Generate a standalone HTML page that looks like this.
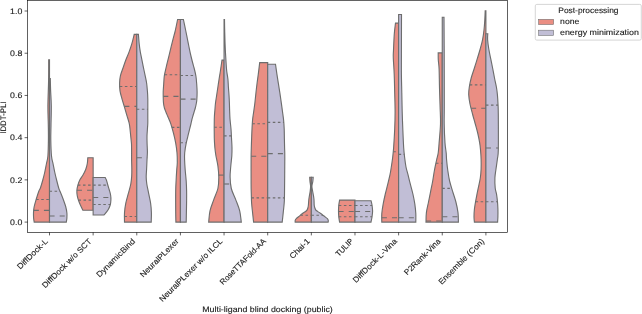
<!DOCTYPE html>
<html><head><meta charset="utf-8"><style>
html,body{margin:0;padding:0;background:#fff;width:642px;height:314px;overflow:hidden}
svg{display:block;will-change:transform}
text{text-rendering:geometricPrecision;font-family:"Liberation Sans",sans-serif;font-size:8.0px;fill:#1a1a1a;stroke:#1a1a1a;stroke-width:0.12px}
</style></head><body>
<svg width="642" height="314" viewBox="0 0 642 314">
<rect width="642" height="314" fill="#fff"/>
<path d="M49.50,59.80 L48.70,59.80 C48.68,63.17 48.73,72.30 48.60,80.00 C48.47,87.70 47.95,98.50 47.90,106.00 C47.85,113.50 48.22,119.33 48.30,125.00 C48.38,130.67 48.47,134.83 48.40,140.00 C48.33,145.17 48.23,152.00 47.90,156.00 C47.57,160.00 46.92,161.33 46.40,164.00 C45.88,166.67 45.40,169.33 44.80,172.00 C44.20,174.67 43.53,177.33 42.80,180.00 C42.07,182.67 41.05,186.17 40.40,188.00 C39.75,189.83 39.58,189.17 38.90,191.00 C38.22,192.83 37.10,196.33 36.30,199.00 C35.50,201.67 34.57,204.67 34.10,207.00 C33.63,209.33 33.58,211.17 33.50,213.00 C33.42,214.83 33.48,216.48 33.60,218.00 C33.72,219.52 34.10,221.42 34.20,222.10 L49.50,222.10 Z" fill="#EA8E83" stroke="#6D6D6D" stroke-width="1.13" stroke-linejoin="miter"/>
<path d="M49.50,78.60 L50.30,78.60 C50.35,80.50 50.43,85.43 50.60,90.00 C50.77,94.57 51.23,100.17 51.30,106.00 C51.37,111.83 51.08,119.33 51.00,125.00 C50.92,130.67 50.72,134.83 50.80,140.00 C50.88,145.17 51.12,152.00 51.50,156.00 C51.88,160.00 52.57,161.33 53.10,164.00 C53.63,166.67 54.12,169.33 54.70,172.00 C55.28,174.67 55.93,177.33 56.60,180.00 C57.27,182.67 58.15,186.17 58.70,188.00 C59.25,189.83 59.17,189.17 59.90,191.00 C60.63,192.83 62.12,196.33 63.10,199.00 C64.08,201.67 65.17,204.67 65.80,207.00 C66.43,209.33 66.72,211.17 66.90,213.00 C67.08,214.83 67.00,216.48 66.90,218.00 C66.80,219.52 66.40,221.42 66.30,222.10 L49.50,222.10 Z" fill="#C1BED6" stroke="#6D6D6D" stroke-width="1.13" stroke-linejoin="miter"/>
<line x1="36.16" y1="199.50" x2="49.50" y2="199.50" stroke="#6D6D6D" stroke-width="1.13" stroke-dasharray="2.54 2.54"/>
<line x1="33.76" y1="210.40" x2="49.50" y2="210.40" stroke="#6D6D6D" stroke-width="1.13" stroke-dasharray="5.08 5.08"/>
<line x1="49.50" y1="191.30" x2="60.02" y2="191.30" stroke="#6D6D6D" stroke-width="1.13" stroke-dasharray="2.54 2.54"/>
<line x1="49.50" y1="216.00" x2="66.90" y2="216.00" stroke="#6D6D6D" stroke-width="1.13" stroke-dasharray="5.08 5.08"/>
<path d="M93.14,157.70 L87.80,157.70 C87.72,158.67 87.63,161.58 87.30,163.50 C86.97,165.42 86.52,167.28 85.80,169.20 C85.08,171.12 84.00,173.20 83.00,175.00 C82.00,176.80 80.65,178.32 79.80,180.00 C78.95,181.68 78.38,183.40 77.90,185.10 C77.42,186.80 77.02,188.50 76.90,190.20 C76.78,191.90 76.93,193.60 77.20,195.30 C77.47,197.00 77.93,198.70 78.50,200.40 C79.07,202.10 79.87,203.85 80.60,205.50 C81.33,207.15 82.52,209.50 82.90,210.30 L93.14,210.30 Z" fill="#EA8E83" stroke="#6D6D6D" stroke-width="1.13" stroke-linejoin="miter"/>
<path d="M93.14,177.50 L105.20,177.50 C105.40,177.92 105.97,178.75 106.40,180.00 C106.83,181.25 107.32,183.33 107.80,185.00 C108.28,186.67 108.83,188.33 109.30,190.00 C109.77,191.67 110.33,193.33 110.60,195.00 C110.87,196.67 110.97,198.33 110.90,200.00 C110.83,201.67 110.68,203.33 110.20,205.00 C109.72,206.67 109.03,208.33 108.00,210.00 C106.97,211.67 104.67,214.17 104.00,215.00 L93.14,215.00 Z" fill="#C1BED6" stroke="#6D6D6D" stroke-width="1.13" stroke-linejoin="miter"/>
<line x1="77.90" y1="185.10" x2="93.14" y2="185.10" stroke="#6D6D6D" stroke-width="1.13" stroke-dasharray="2.54 2.54"/>
<line x1="76.90" y1="190.20" x2="93.14" y2="190.20" stroke="#6D6D6D" stroke-width="1.13" stroke-dasharray="5.08 5.08"/>
<line x1="78.42" y1="200.10" x2="93.14" y2="200.10" stroke="#6D6D6D" stroke-width="1.13" stroke-dasharray="2.54 2.54"/>
<line x1="93.14" y1="185.10" x2="107.83" y2="185.10" stroke="#6D6D6D" stroke-width="1.13" stroke-dasharray="2.54 2.54"/>
<line x1="93.14" y1="197.50" x2="110.75" y2="197.50" stroke="#6D6D6D" stroke-width="1.13" stroke-dasharray="5.08 5.08"/>
<line x1="93.14" y1="204.50" x2="110.27" y2="204.50" stroke="#6D6D6D" stroke-width="1.13" stroke-dasharray="2.54 2.54"/>
<path d="M136.78,34.40 L134.20,34.40 C133.80,35.98 132.65,40.98 131.80,43.90 C130.95,46.82 130.08,49.25 129.10,51.90 C128.12,54.55 126.90,57.15 125.90,59.80 C124.90,62.45 124.02,65.13 123.10,67.80 C122.18,70.47 120.98,73.27 120.40,75.80 C119.82,78.33 119.67,80.48 119.60,83.00 C119.53,85.52 119.60,88.25 120.00,90.90 C120.40,93.55 121.27,96.25 122.00,98.90 C122.73,101.55 123.62,104.15 124.40,106.80 C125.18,109.45 125.92,112.13 126.70,114.80 C127.48,117.47 128.57,120.60 129.10,122.80 C129.63,125.00 129.63,125.80 129.90,128.00 C130.17,130.20 130.43,133.33 130.70,136.00 C130.97,138.67 131.35,141.33 131.50,144.00 C131.65,146.67 131.58,149.33 131.60,152.00 C131.62,154.67 131.57,157.33 131.60,160.00 C131.63,162.67 131.78,165.33 131.80,168.00 C131.82,170.67 131.87,173.33 131.70,176.00 C131.53,178.67 131.37,181.07 130.80,184.00 C130.23,186.93 129.13,190.40 128.30,193.60 C127.47,196.80 126.43,200.02 125.80,203.20 C125.17,206.38 124.72,209.55 124.50,212.70 C124.28,215.85 124.50,220.53 124.50,222.10 L136.78,222.10 Z" fill="#EA8E83" stroke="#6D6D6D" stroke-width="1.13" stroke-linejoin="miter"/>
<path d="M136.78,34.40 L138.40,34.40 C138.53,35.98 138.88,40.98 139.20,43.90 C139.52,46.82 139.85,49.25 140.30,51.90 C140.75,54.55 141.37,57.15 141.90,59.80 C142.43,62.45 142.95,65.13 143.50,67.80 C144.05,70.47 144.68,73.27 145.20,75.80 C145.72,78.33 146.23,80.47 146.60,83.00 C146.97,85.53 147.20,88.33 147.40,91.00 C147.60,93.67 147.73,95.00 147.80,99.00 C147.87,103.00 147.80,111.00 147.80,115.00 C147.80,119.00 147.85,120.83 147.80,123.00 C147.75,125.17 147.63,125.83 147.50,128.00 C147.37,130.17 147.07,133.33 147.00,136.00 C146.93,138.67 147.03,141.33 147.10,144.00 C147.17,146.67 147.42,149.33 147.40,152.00 C147.38,154.67 147.13,157.17 147.00,160.00 C146.87,162.83 146.73,166.17 146.60,169.00 C146.47,171.83 146.17,174.50 146.20,177.00 C146.23,179.50 146.38,181.23 146.80,184.00 C147.22,186.77 148.07,190.40 148.70,193.60 C149.33,196.80 150.15,200.02 150.60,203.20 C151.05,206.38 151.30,209.55 151.40,212.70 C151.50,215.85 151.23,220.53 151.20,222.10 L136.78,222.10 Z" fill="#C1BED6" stroke="#6D6D6D" stroke-width="1.13" stroke-linejoin="miter"/>
<line x1="119.78" y1="86.50" x2="136.78" y2="86.50" stroke="#6D6D6D" stroke-width="1.13" stroke-dasharray="2.54 2.54"/>
<line x1="124.28" y1="106.40" x2="136.78" y2="106.40" stroke="#6D6D6D" stroke-width="1.13" stroke-dasharray="5.08 5.08"/>
<line x1="124.50" y1="216.50" x2="136.78" y2="216.50" stroke="#6D6D6D" stroke-width="1.13" stroke-dasharray="2.54 2.54"/>
<line x1="136.78" y1="109.20" x2="147.80" y2="109.20" stroke="#6D6D6D" stroke-width="1.13" stroke-dasharray="2.54 2.54"/>
<line x1="136.78" y1="157.70" x2="147.12" y2="157.70" stroke="#6D6D6D" stroke-width="1.13" stroke-dasharray="5.08 5.08"/>
<path d="M180.42,19.50 L177.60,19.50 C177.20,21.42 175.95,27.77 175.20,31.00 C174.45,34.23 173.78,36.25 173.10,38.90 C172.42,41.55 171.75,44.23 171.10,46.90 C170.45,49.57 169.85,52.25 169.20,54.90 C168.55,57.55 167.73,60.62 167.20,62.80 C166.67,64.98 166.48,65.80 166.00,68.00 C165.52,70.20 164.68,73.33 164.30,76.00 C163.92,78.67 163.88,81.33 163.70,84.00 C163.52,86.67 163.27,89.33 163.20,92.00 C163.13,94.67 163.23,98.00 163.30,100.00 C163.37,102.00 163.42,102.67 163.60,104.00 C163.78,105.33 164.02,106.67 164.40,108.00 C164.78,109.33 165.37,110.67 165.90,112.00 C166.43,113.33 167.03,114.67 167.60,116.00 C168.17,117.33 168.75,118.65 169.30,120.00 C169.85,121.35 170.18,121.82 170.90,124.10 C171.62,126.38 172.80,130.52 173.60,133.70 C174.40,136.88 175.13,140.02 175.70,143.20 C176.27,146.38 176.73,149.60 177.00,152.80 C177.27,156.00 177.35,159.47 177.30,162.40 C177.25,165.33 176.90,167.35 176.70,170.40 C176.50,173.45 176.27,177.27 176.10,180.70 C175.93,184.13 175.77,185.82 175.70,191.00 C175.63,196.18 175.67,206.62 175.70,211.80 C175.73,216.98 175.87,220.38 175.90,222.10 L180.42,222.10 Z" fill="#EA8E83" stroke="#6D6D6D" stroke-width="1.13" stroke-linejoin="miter"/>
<path d="M180.42,19.50 L183.40,19.50 C183.80,21.42 185.13,27.75 185.80,31.00 C186.47,34.25 186.87,36.33 187.40,39.00 C187.93,41.67 188.45,44.33 189.00,47.00 C189.55,49.67 190.08,52.33 190.70,55.00 C191.32,57.67 192.13,60.83 192.70,63.00 C193.27,65.17 193.57,65.83 194.10,68.00 C194.63,70.17 195.47,73.33 195.90,76.00 C196.33,78.67 196.50,81.33 196.70,84.00 C196.90,86.67 197.08,89.33 197.10,92.00 C197.12,94.67 196.95,98.00 196.80,100.00 C196.65,102.00 196.45,102.67 196.20,104.00 C195.95,105.33 195.65,106.67 195.30,108.00 C194.95,109.33 194.50,110.67 194.10,112.00 C193.70,113.33 193.28,114.67 192.90,116.00 C192.52,117.33 192.13,118.67 191.80,120.00 C191.47,121.33 191.45,121.72 190.90,124.00 C190.35,126.28 189.28,130.50 188.50,133.70 C187.72,136.90 186.83,140.02 186.20,143.20 C185.57,146.38 184.97,150.00 184.70,152.80 C184.43,155.60 184.52,157.13 184.60,160.00 C184.68,162.87 184.93,166.50 185.20,170.00 C185.47,173.50 185.97,177.50 186.20,181.00 C186.43,184.50 186.53,187.67 186.60,191.00 C186.67,194.33 186.63,197.50 186.60,201.00 C186.57,204.50 186.47,208.48 186.40,212.00 C186.33,215.52 186.23,220.42 186.20,222.10 L180.42,222.10 Z" fill="#C1BED6" stroke="#6D6D6D" stroke-width="1.13" stroke-linejoin="miter"/>
<line x1="164.58" y1="74.70" x2="180.42" y2="74.70" stroke="#6D6D6D" stroke-width="1.13" stroke-dasharray="2.54 2.54"/>
<line x1="163.25" y1="96.40" x2="180.42" y2="96.40" stroke="#6D6D6D" stroke-width="1.13" stroke-dasharray="5.08 5.08"/>
<line x1="171.83" y1="127.40" x2="180.42" y2="127.40" stroke="#6D6D6D" stroke-width="1.13" stroke-dasharray="2.54 2.54"/>
<line x1="180.42" y1="75.50" x2="195.79" y2="75.50" stroke="#6D6D6D" stroke-width="1.13" stroke-dasharray="2.54 2.54"/>
<line x1="180.42" y1="99.10" x2="196.83" y2="99.10" stroke="#6D6D6D" stroke-width="1.13" stroke-dasharray="5.08 5.08"/>
<line x1="180.42" y1="142.70" x2="186.32" y2="142.70" stroke="#6D6D6D" stroke-width="1.13" stroke-dasharray="2.54 2.54"/>
<path d="M224.06,60.10 L222.00,60.10 C221.73,61.92 220.88,67.85 220.40,71.00 C219.92,74.15 219.52,76.33 219.10,79.00 C218.68,81.67 218.30,84.33 217.90,87.00 C217.50,89.67 217.10,92.33 216.70,95.00 C216.30,97.67 215.80,100.50 215.50,103.00 C215.20,105.50 215.10,107.33 214.90,110.00 C214.70,112.67 214.40,114.33 214.30,119.00 C214.20,123.67 214.20,133.17 214.30,138.00 C214.40,142.83 214.65,145.17 214.90,148.00 C215.15,150.83 215.30,152.00 215.80,155.00 C216.30,158.00 217.40,162.28 217.90,166.00 C218.40,169.72 218.80,173.55 218.80,177.30 C218.80,181.05 218.73,184.78 217.90,188.50 C217.07,192.22 215.12,195.88 213.80,199.60 C212.48,203.32 210.85,207.05 210.00,210.80 C209.15,214.55 208.92,220.22 208.70,222.10 L224.06,222.10 Z" fill="#EA8E83" stroke="#6D6D6D" stroke-width="1.13" stroke-linejoin="miter"/>
<path d="M224.06,19.50 L224.50,19.50 C224.53,21.42 224.58,26.42 224.70,31.00 C224.82,35.58 224.97,41.67 225.20,47.00 C225.43,52.33 225.85,59.00 226.10,63.00 C226.35,67.00 226.40,68.33 226.70,71.00 C227.00,73.67 227.62,76.33 227.90,79.00 C228.18,81.67 228.22,84.33 228.40,87.00 C228.58,89.67 228.83,92.33 229.00,95.00 C229.17,97.67 229.30,100.50 229.40,103.00 C229.50,105.50 229.50,107.33 229.60,110.00 C229.70,112.67 229.77,115.83 230.00,119.00 C230.23,122.17 230.75,125.83 231.00,129.00 C231.25,132.17 231.33,134.83 231.50,138.00 C231.67,141.17 231.95,145.00 232.00,148.00 C232.05,151.00 232.00,153.00 231.80,156.00 C231.60,159.00 231.08,162.50 230.80,166.00 C230.52,169.50 230.02,173.25 230.10,177.00 C230.18,180.75 230.37,184.73 231.30,188.50 C232.23,192.27 234.30,195.88 235.70,199.60 C237.10,203.32 238.77,207.05 239.70,210.80 C240.63,214.55 241.03,220.22 241.30,222.10 L224.06,222.10 Z" fill="#C1BED6" stroke="#6D6D6D" stroke-width="1.13" stroke-linejoin="miter"/>
<line x1="214.30" y1="127.20" x2="224.06" y2="127.20" stroke="#6D6D6D" stroke-width="1.13" stroke-dasharray="2.54 2.54"/>
<line x1="218.62" y1="175.10" x2="224.06" y2="175.10" stroke="#6D6D6D" stroke-width="1.13" stroke-dasharray="5.08 5.08"/>
<line x1="224.06" y1="135.90" x2="231.38" y2="135.90" stroke="#6D6D6D" stroke-width="1.13" stroke-dasharray="2.54 2.54"/>
<line x1="224.06" y1="184.00" x2="230.83" y2="184.00" stroke="#6D6D6D" stroke-width="1.13" stroke-dasharray="5.08 5.08"/>
<path d="M267.70,62.60 L259.70,62.60 C259.47,64.52 258.75,70.58 258.30,74.10 C257.85,77.62 257.40,80.52 257.00,83.70 C256.60,86.88 256.25,90.02 255.90,93.20 C255.55,96.38 255.28,99.60 254.90,102.80 C254.52,106.00 253.98,109.60 253.60,112.40 C253.22,115.20 252.87,116.83 252.60,119.60 C252.33,122.37 252.17,125.82 252.00,129.00 C251.83,132.18 251.72,135.53 251.60,138.70 C251.48,141.87 251.38,144.78 251.30,148.00 C251.22,151.22 251.13,152.00 251.10,158.00 C251.07,164.00 251.07,178.00 251.10,184.00 C251.13,190.00 251.22,190.83 251.30,194.00 C251.38,197.17 251.38,199.83 251.60,203.00 C251.82,206.17 252.27,209.82 252.60,213.00 C252.93,216.18 253.43,220.58 253.60,222.10 L267.70,222.10 Z" fill="#EA8E83" stroke="#6D6D6D" stroke-width="1.13" stroke-linejoin="miter"/>
<path d="M267.70,64.20 L275.50,64.20 C275.73,65.85 276.42,70.85 276.90,74.10 C277.38,77.35 277.90,80.52 278.40,83.70 C278.90,86.88 279.42,90.02 279.90,93.20 C280.38,96.38 280.85,99.60 281.30,102.80 C281.75,106.00 282.22,109.53 282.60,112.40 C282.98,115.27 283.33,117.23 283.60,120.00 C283.87,122.77 284.07,125.83 284.20,129.00 C284.33,132.17 284.33,135.83 284.40,139.00 C284.47,142.17 284.53,144.83 284.60,148.00 C284.67,151.17 284.82,150.33 284.80,158.00 C284.78,165.67 284.60,186.50 284.50,194.00 C284.40,201.50 284.42,199.83 284.20,203.00 C283.98,206.17 283.53,209.82 283.20,213.00 C282.87,216.18 282.37,220.58 282.20,222.10 L267.70,222.10 Z" fill="#C1BED6" stroke="#6D6D6D" stroke-width="1.13" stroke-linejoin="miter"/>
<line x1="252.33" y1="123.80" x2="267.70" y2="123.80" stroke="#6D6D6D" stroke-width="1.13" stroke-dasharray="2.54 2.54"/>
<line x1="251.13" y1="156.30" x2="267.70" y2="156.30" stroke="#6D6D6D" stroke-width="1.13" stroke-dasharray="5.08 5.08"/>
<line x1="251.43" y1="197.90" x2="267.70" y2="197.90" stroke="#6D6D6D" stroke-width="1.13" stroke-dasharray="2.54 2.54"/>
<line x1="267.70" y1="122.40" x2="283.76" y2="122.40" stroke="#6D6D6D" stroke-width="1.13" stroke-dasharray="2.54 2.54"/>
<line x1="267.70" y1="153.60" x2="284.71" y2="153.60" stroke="#6D6D6D" stroke-width="1.13" stroke-dasharray="5.08 5.08"/>
<line x1="267.70" y1="197.90" x2="284.37" y2="197.90" stroke="#6D6D6D" stroke-width="1.13" stroke-dasharray="2.54 2.54"/>
<path d="M311.34,177.30 L309.70,177.30 C309.75,178.02 309.85,180.10 310.00,181.60 C310.15,183.10 310.57,184.73 310.60,186.30 C310.63,187.87 310.40,189.40 310.20,191.00 C310.00,192.60 309.63,194.43 309.40,195.90 C309.17,197.37 308.97,198.28 308.80,199.80 C308.63,201.32 308.53,203.72 308.40,205.00 C308.27,206.28 308.23,206.65 308.00,207.50 C307.77,208.35 307.47,209.40 307.00,210.10 C306.53,210.80 305.92,211.17 305.20,211.70 C304.48,212.23 303.43,212.77 302.70,213.30 C301.97,213.83 301.50,214.32 300.80,214.90 C300.10,215.48 299.25,216.17 298.50,216.80 C297.75,217.43 296.85,218.12 296.30,218.70 C295.75,219.28 295.38,219.73 295.20,220.30 C295.02,220.87 295.20,221.80 295.20,222.10 L311.34,222.10 Z" fill="#EA8E83" stroke="#6D6D6D" stroke-width="1.13" stroke-linejoin="miter"/>
<path d="M311.34,177.30 L313.20,177.30 C313.13,178.02 313.02,180.10 312.80,181.60 C312.58,183.10 311.93,184.73 311.90,186.30 C311.87,187.87 312.33,189.40 312.60,191.00 C312.87,192.60 313.27,194.43 313.50,195.90 C313.73,197.37 313.88,198.28 314.00,199.80 C314.12,201.32 314.08,203.72 314.20,205.00 C314.32,206.28 314.45,206.70 314.70,207.50 C314.95,208.30 315.22,209.15 315.70,209.80 C316.18,210.45 316.82,210.82 317.60,211.40 C318.38,211.98 319.52,212.67 320.40,213.30 C321.28,213.93 322.07,214.57 322.90,215.20 C323.73,215.83 324.65,216.52 325.40,217.10 C326.15,217.68 326.92,218.12 327.40,218.70 C327.88,219.28 328.18,220.03 328.30,220.60 C328.42,221.17 328.13,221.85 328.10,222.10 L311.34,222.10 Z" fill="#C1BED6" stroke="#6D6D6D" stroke-width="1.13" stroke-linejoin="miter"/>
<line x1="300.44" y1="215.20" x2="311.34" y2="215.20" stroke="#6D6D6D" stroke-width="1.13" stroke-dasharray="2.54 2.54"/>
<line x1="311.34" y1="215.20" x2="322.90" y2="215.20" stroke="#6D6D6D" stroke-width="1.13" stroke-dasharray="2.54 2.54"/>
<path d="M354.98,200.10 L339.60,200.10 C339.47,200.92 338.98,203.18 338.80,205.00 C338.62,206.82 338.50,209.00 338.50,211.00 C338.50,213.00 338.62,215.15 338.80,217.00 C338.98,218.85 339.47,221.25 339.60,222.10 L354.98,222.10 Z" fill="#EA8E83" stroke="#6D6D6D" stroke-width="1.13" stroke-linejoin="miter"/>
<path d="M354.98,200.70 L371.00,200.70 C371.17,201.42 371.73,203.28 372.00,205.00 C372.27,206.72 372.60,209.00 372.60,211.00 C372.60,213.00 372.27,215.15 372.00,217.00 C371.73,218.85 371.17,221.25 371.00,222.10 L354.98,222.10 Z" fill="#C1BED6" stroke="#6D6D6D" stroke-width="1.13" stroke-linejoin="miter"/>
<line x1="338.78" y1="205.50" x2="354.98" y2="205.50" stroke="#6D6D6D" stroke-width="1.13" stroke-dasharray="2.54 2.54"/>
<line x1="338.52" y1="211.50" x2="354.98" y2="211.50" stroke="#6D6D6D" stroke-width="1.13" stroke-dasharray="5.08 5.08"/>
<line x1="338.79" y1="216.70" x2="354.98" y2="216.70" stroke="#6D6D6D" stroke-width="1.13" stroke-dasharray="2.54 2.54"/>
<line x1="354.98" y1="205.50" x2="372.05" y2="205.50" stroke="#6D6D6D" stroke-width="1.13" stroke-dasharray="2.54 2.54"/>
<line x1="354.98" y1="211.50" x2="372.55" y2="211.50" stroke="#6D6D6D" stroke-width="1.13" stroke-dasharray="5.08 5.08"/>
<line x1="354.98" y1="216.70" x2="372.03" y2="216.70" stroke="#6D6D6D" stroke-width="1.13" stroke-dasharray="2.54 2.54"/>
<path d="M398.62,23.10 L395.50,23.10 C395.30,24.90 394.63,29.43 394.30,33.90 C393.97,38.37 393.67,45.92 393.50,49.90 C393.33,53.88 393.18,53.78 393.30,57.80 C393.42,61.82 393.97,68.13 394.20,74.00 C394.43,79.87 394.55,86.67 394.70,93.00 C394.85,99.33 395.10,106.00 395.10,112.00 C395.10,118.00 394.95,123.00 394.70,129.00 C394.45,135.00 393.95,143.17 393.60,148.00 C393.25,152.83 392.98,154.83 392.60,158.00 C392.22,161.17 391.73,164.22 391.30,167.00 C390.87,169.78 390.60,171.80 390.00,174.70 C389.40,177.60 388.48,181.18 387.70,184.40 C386.92,187.62 386.05,190.77 385.30,194.00 C384.55,197.23 383.78,200.55 383.20,203.80 C382.62,207.05 382.03,210.45 381.80,213.50 C381.57,216.55 381.80,220.67 381.80,222.10 L398.62,222.10 Z" fill="#EA8E83" stroke="#6D6D6D" stroke-width="1.13" stroke-linejoin="miter"/>
<path d="M398.62,14.50 L401.50,14.50 C401.48,21.25 401.42,45.08 401.40,55.00 C401.38,64.92 401.33,67.67 401.40,74.00 C401.47,80.33 401.67,86.67 401.80,93.00 C401.93,99.33 402.03,106.00 402.20,112.00 C402.37,118.00 402.55,123.00 402.80,129.00 C403.05,135.00 403.38,143.17 403.70,148.00 C404.02,152.83 404.32,154.83 404.70,158.00 C405.08,161.17 405.45,164.22 406.00,167.00 C406.55,169.78 407.27,171.80 408.00,174.70 C408.73,177.60 409.58,181.18 410.40,184.40 C411.22,187.62 412.17,190.77 412.90,194.00 C413.63,197.23 414.32,200.55 414.80,203.80 C415.28,207.05 415.63,210.45 415.80,213.50 C415.97,216.55 415.80,220.67 415.80,222.10 L398.62,222.10 Z" fill="#C1BED6" stroke="#6D6D6D" stroke-width="1.13" stroke-linejoin="miter"/>
<line x1="393.23" y1="151.70" x2="398.62" y2="151.70" stroke="#6D6D6D" stroke-width="1.13" stroke-dasharray="2.54 2.54"/>
<line x1="381.80" y1="217.80" x2="398.62" y2="217.80" stroke="#6D6D6D" stroke-width="1.13" stroke-dasharray="5.08 5.08"/>
<line x1="398.62" y1="154.40" x2="404.34" y2="154.40" stroke="#6D6D6D" stroke-width="1.13" stroke-dasharray="2.54 2.54"/>
<line x1="398.62" y1="217.80" x2="415.80" y2="217.80" stroke="#6D6D6D" stroke-width="1.13" stroke-dasharray="5.08 5.08"/>
<path d="M442.26,52.90 L438.20,52.90 C438.22,54.08 438.15,57.32 438.30,60.00 C438.45,62.68 438.90,64.33 439.10,69.00 C439.30,73.67 439.33,81.67 439.50,88.00 C439.67,94.33 439.93,101.00 440.10,107.00 C440.27,113.00 440.67,118.00 440.50,124.00 C440.33,130.00 439.48,138.17 439.10,143.00 C438.72,147.83 438.62,150.17 438.20,153.00 C437.78,155.83 437.23,157.08 436.60,160.00 C435.97,162.92 435.05,167.00 434.40,170.50 C433.75,174.00 433.33,177.48 432.70,181.00 C432.07,184.52 431.30,188.10 430.60,191.60 C429.90,195.10 429.20,198.50 428.50,202.00 C427.80,205.50 426.82,209.25 426.40,212.60 C425.98,215.95 426.07,220.52 426.00,222.10 L442.26,222.10 Z" fill="#EA8E83" stroke="#6D6D6D" stroke-width="1.13" stroke-linejoin="miter"/>
<path d="M442.26,17.20 L444.00,17.20 C444.03,22.67 444.15,35.37 444.20,50.00 C444.25,64.63 444.30,92.67 444.30,105.00 C444.30,117.33 444.08,117.67 444.20,124.00 C444.32,130.33 444.67,138.17 445.00,143.00 C445.33,147.83 445.93,150.17 446.20,153.00 C446.47,155.83 446.33,157.08 446.60,160.00 C446.87,162.92 447.30,167.00 447.80,170.50 C448.30,174.00 448.78,177.48 449.60,181.00 C450.42,184.52 451.65,188.10 452.70,191.60 C453.75,195.10 455.02,198.50 455.90,202.00 C456.78,205.50 457.58,209.25 458.00,212.60 C458.42,215.95 458.33,220.52 458.40,222.10 L442.26,222.10 Z" fill="#C1BED6" stroke="#6D6D6D" stroke-width="1.13" stroke-linejoin="miter"/>
<line x1="435.93" y1="163.20" x2="442.26" y2="163.20" stroke="#6D6D6D" stroke-width="1.13" stroke-dasharray="2.54 2.54"/>
<line x1="426.05" y1="221.00" x2="442.26" y2="221.00" stroke="#6D6D6D" stroke-width="1.13" stroke-dasharray="5.08 5.08"/>
<line x1="442.26" y1="188.40" x2="451.76" y2="188.40" stroke="#6D6D6D" stroke-width="1.13" stroke-dasharray="2.54 2.54"/>
<line x1="442.26" y1="216.80" x2="458.18" y2="216.80" stroke="#6D6D6D" stroke-width="1.13" stroke-dasharray="5.08 5.08"/>
<path d="M485.90,10.70 L485.20,10.70 C485.13,12.25 485.00,16.78 484.80,20.00 C484.60,23.22 484.37,26.73 484.00,30.00 C483.63,33.27 483.23,36.43 482.60,39.60 C481.97,42.77 481.08,45.82 480.20,49.00 C479.32,52.18 478.27,55.53 477.30,58.70 C476.33,61.87 475.42,64.78 474.40,68.00 C473.38,71.22 472.05,74.83 471.20,78.00 C470.35,81.17 469.72,84.23 469.30,87.00 C468.88,89.77 468.58,91.77 468.70,94.60 C468.82,97.43 469.37,100.77 470.00,104.00 C470.63,107.23 471.67,110.83 472.50,114.00 C473.33,117.17 474.13,119.83 475.00,123.00 C475.87,126.17 476.93,129.77 477.70,133.00 C478.47,136.23 479.13,139.63 479.60,142.40 C480.07,145.17 480.25,146.83 480.50,149.60 C480.75,152.37 481.00,155.77 481.10,159.00 C481.20,162.23 481.23,165.83 481.10,169.00 C480.97,172.17 480.75,174.95 480.30,178.00 C479.85,181.05 478.97,184.53 478.40,187.30 C477.83,190.07 477.38,192.15 476.90,194.60 C476.42,197.05 475.92,199.55 475.50,202.00 C475.08,204.45 474.65,206.87 474.40,209.30 C474.15,211.73 474.00,214.47 474.00,216.60 C474.00,218.73 474.33,221.18 474.40,222.10 L485.90,222.10 Z" fill="#EA8E83" stroke="#6D6D6D" stroke-width="1.13" stroke-linejoin="miter"/>
<path d="M485.90,33.70 L487.80,33.70 C487.77,34.68 487.43,37.05 487.60,39.60 C487.77,42.15 488.28,45.82 488.80,49.00 C489.32,52.18 490.07,55.53 490.70,58.70 C491.33,61.87 491.97,64.78 492.60,68.00 C493.23,71.22 493.87,74.83 494.50,78.00 C495.13,81.17 495.92,84.23 496.40,87.00 C496.88,89.77 497.13,91.77 497.40,94.60 C497.67,97.43 497.85,100.77 498.00,104.00 C498.15,107.23 498.25,106.33 498.30,114.00 C498.35,121.67 498.45,142.50 498.30,150.00 C498.15,157.50 497.78,155.83 497.40,159.00 C497.02,162.17 496.42,165.83 496.00,169.00 C495.58,172.17 495.03,174.83 494.90,178.00 C494.77,181.17 494.92,185.23 495.20,188.00 C495.48,190.77 496.22,192.27 496.60,194.60 C496.98,196.93 497.28,199.60 497.50,202.00 C497.72,204.40 497.83,206.57 497.90,209.00 C497.97,211.43 497.95,214.42 497.90,216.60 C497.85,218.78 497.65,221.18 497.60,222.10 L485.90,222.10 Z" fill="#C1BED6" stroke="#6D6D6D" stroke-width="1.13" stroke-linejoin="miter"/>
<line x1="469.74" y1="84.90" x2="485.90" y2="84.90" stroke="#6D6D6D" stroke-width="1.13" stroke-dasharray="2.54 2.54"/>
<line x1="471.07" y1="108.30" x2="485.90" y2="108.30" stroke="#6D6D6D" stroke-width="1.13" stroke-dasharray="5.08 5.08"/>
<line x1="475.56" y1="201.70" x2="485.90" y2="201.70" stroke="#6D6D6D" stroke-width="1.13" stroke-dasharray="2.54 2.54"/>
<line x1="485.90" y1="105.10" x2="498.03" y2="105.10" stroke="#6D6D6D" stroke-width="1.13" stroke-dasharray="2.54 2.54"/>
<line x1="485.90" y1="148.00" x2="498.30" y2="148.00" stroke="#6D6D6D" stroke-width="1.13" stroke-dasharray="5.08 5.08"/>
<line x1="485.90" y1="201.70" x2="497.46" y2="201.70" stroke="#6D6D6D" stroke-width="1.13" stroke-dasharray="2.54 2.54"/>
<rect x="27.6" y="0.3" width="479.90" height="232.10" fill="none" stroke="#000" stroke-width="0.62"/>
<line x1="24.60" y1="222.10" x2="27.6" y2="222.10" stroke="#000" stroke-width="0.62"/>
<line x1="24.60" y1="179.88" x2="27.6" y2="179.88" stroke="#000" stroke-width="0.62"/>
<line x1="24.60" y1="137.66" x2="27.6" y2="137.66" stroke="#000" stroke-width="0.62"/>
<line x1="24.60" y1="95.44" x2="27.6" y2="95.44" stroke="#000" stroke-width="0.62"/>
<line x1="24.60" y1="53.22" x2="27.6" y2="53.22" stroke="#000" stroke-width="0.62"/>
<line x1="24.60" y1="11.00" x2="27.6" y2="11.00" stroke="#000" stroke-width="0.62"/>
<line x1="49.50" y1="232.4" x2="49.50" y2="235.40" stroke="#000" stroke-width="0.62"/>
<line x1="93.14" y1="232.4" x2="93.14" y2="235.40" stroke="#000" stroke-width="0.62"/>
<line x1="136.78" y1="232.4" x2="136.78" y2="235.40" stroke="#000" stroke-width="0.62"/>
<line x1="180.42" y1="232.4" x2="180.42" y2="235.40" stroke="#000" stroke-width="0.62"/>
<line x1="224.06" y1="232.4" x2="224.06" y2="235.40" stroke="#000" stroke-width="0.62"/>
<line x1="267.70" y1="232.4" x2="267.70" y2="235.40" stroke="#000" stroke-width="0.62"/>
<line x1="311.34" y1="232.4" x2="311.34" y2="235.40" stroke="#000" stroke-width="0.62"/>
<line x1="354.98" y1="232.4" x2="354.98" y2="235.40" stroke="#000" stroke-width="0.62"/>
<line x1="398.62" y1="232.4" x2="398.62" y2="235.40" stroke="#000" stroke-width="0.62"/>
<line x1="442.26" y1="232.4" x2="442.26" y2="235.40" stroke="#000" stroke-width="0.62"/>
<line x1="485.90" y1="232.4" x2="485.90" y2="235.40" stroke="#000" stroke-width="0.62"/>
<text x="22.32" y="224.90" text-anchor="end" textLength="12.21" lengthAdjust="spacingAndGlyphs">0.0</text>
<text x="22.32" y="182.68" text-anchor="end" textLength="12.21" lengthAdjust="spacingAndGlyphs">0.2</text>
<text x="22.32" y="140.46" text-anchor="end" textLength="12.21" lengthAdjust="spacingAndGlyphs">0.4</text>
<text x="22.32" y="98.24" text-anchor="end" textLength="12.21" lengthAdjust="spacingAndGlyphs">0.6</text>
<text x="22.32" y="56.02" text-anchor="end" textLength="12.21" lengthAdjust="spacingAndGlyphs">0.8</text>
<text x="22.32" y="13.80" text-anchor="end" textLength="12.21" lengthAdjust="spacingAndGlyphs">1.0</text>
<text transform="translate(48.37,241.80) rotate(-45)" text-anchor="end" textLength="39.67" lengthAdjust="spacingAndGlyphs">DiffDock-L</text>
<text transform="translate(92.01,241.80) rotate(-45)" text-anchor="end" textLength="66.00" lengthAdjust="spacingAndGlyphs">DiffDock w/o SCT</text>
<text transform="translate(135.65,241.80) rotate(-45)" text-anchor="end" textLength="51.02" lengthAdjust="spacingAndGlyphs">DynamicBind</text>
<text transform="translate(179.29,241.80) rotate(-45)" text-anchor="end" textLength="50.89" lengthAdjust="spacingAndGlyphs">NeuralPLexer</text>
<text transform="translate(222.93,241.80) rotate(-45)" text-anchor="end" textLength="85.53" lengthAdjust="spacingAndGlyphs">NeuralPLexer w/o ILCL</text>
<text transform="translate(266.57,241.80) rotate(-45)" text-anchor="end" textLength="61.50" lengthAdjust="spacingAndGlyphs">RoseTTAFold-AA</text>
<text transform="translate(310.21,241.80) rotate(-45)" text-anchor="end" textLength="24.73" lengthAdjust="spacingAndGlyphs">Chai-1</text>
<text transform="translate(353.85,241.80) rotate(-45)" text-anchor="end" textLength="21.49" lengthAdjust="spacingAndGlyphs">TULIP</text>
<text transform="translate(397.49,241.80) rotate(-45)" text-anchor="end" textLength="58.65" lengthAdjust="spacingAndGlyphs">DiffDock-L-Vina</text>
<text transform="translate(441.13,241.80) rotate(-45)" text-anchor="end" textLength="47.82" lengthAdjust="spacingAndGlyphs">P2Rank-Vina</text>
<text transform="translate(484.77,241.80) rotate(-45)" text-anchor="end" textLength="61.02" lengthAdjust="spacingAndGlyphs">Ensemble (Con)</text>
<text x="267.5" y="311.6" text-anchor="middle" textLength="130.56" lengthAdjust="spacingAndGlyphs">Multi-ligand blind docking (public)</text>
<text transform="translate(6.1,117.4) rotate(-90)" text-anchor="middle" textLength="31.89" lengthAdjust="spacingAndGlyphs">lDDT-PLI</text>
<rect x="535.3" y="4.4" width="106.0" height="35.7" rx="1.5" ry="1.5" fill="#fff" fill-opacity="0.8" stroke="#cccccc" stroke-width="0.8"/>
<text x="558.3" y="13.3" textLength="60.23" lengthAdjust="spacingAndGlyphs">Post-processing</text>
<rect x="538.6" y="19.3" width="15.06" height="5.27" fill="#EA8E83" stroke="#6D6D6D" stroke-width="0.56"/>
<rect x="538.6" y="30.2" width="15.06" height="5.27" fill="#C1BED6" stroke="#6D6D6D" stroke-width="0.56"/>
<text x="560.1" y="24.2" textLength="19.16" lengthAdjust="spacingAndGlyphs">none</text>
<text x="560.0" y="35.2" textLength="78.88" lengthAdjust="spacingAndGlyphs">energy minimization</text>
</svg>
</body></html>
